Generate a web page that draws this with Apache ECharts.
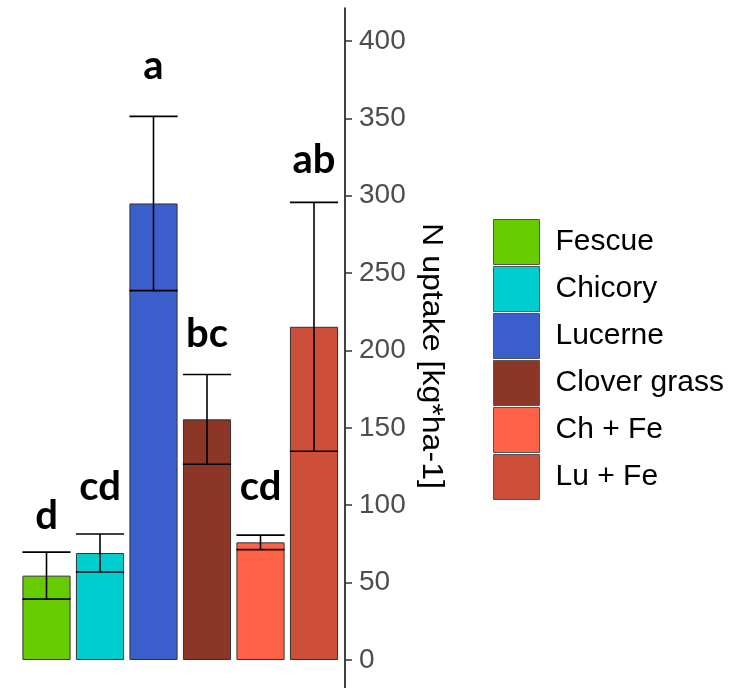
<!DOCTYPE html>
<html>
<head>
<meta charset="utf-8">
<script src="https://cdn.jsdelivr.net/npm/echarts@6/dist/echarts.min.js"></script>
<style>
html,body{margin:0;padding:0;background:#fff;}
#chart{width:730px;height:688px;}
</style>
</head>
<body>
<div id="chart"></div>
<script>
// ---- data ----
var categories = ['Fescue', 'Chicory', 'Lucerne', 'Clover grass', 'Ch + Fe', 'Lu + Fe'];
var means = [54.5, 69.1, 295, 155.5, 76, 215.3];
var se = [15.2, 12.3, 56.3, 29, 4.7, 80.4];
var letters = ['d', 'cd', 'a', 'bc', 'cd', 'ab'];
var letterY = [82.9, 101.3, 373.5, 200.2, 101.3, 312.5];
var yTicks = [0, 50, 100, 150, 200, 250, 300, 350, 400];
var colors = ['#66CC00', '#00CDCD', '#3A5FCD', '#8B3626', '#FF6347', '#CD4F39'];
var yTitle = 'N uptake [kg*ha-1]';

var chart = echarts.init(document.getElementById('chart'), null, {renderer: 'canvas'});

var barSeries = categories.map(function (name, i) {
  return {
    name: name,
    type: 'bar',
    stack: 'all',
    barWidth: '90%',
    itemStyle: {color: colors[i], borderColor: '#333', borderWidth: 1},
    data: categories.map(function (c, j) { return j === i ? means[i] : '-'; }),
    z: 2
  };
});

var errData = categories.map(function (c, i) { return [i, means[i] - se[i], means[i] + se[i]]; });
var letterData = categories.map(function (c, i) { return [i, letterY[i]]; });

var option = {
  backgroundColor: '#fff',
  animation: false,
  grid: {left: 19.75, width: 321, top: 8, height: 695.3, containLabel: false, outerBoundsMode: 'none'},
  xAxis: {type: 'category', data: categories, show: false, boundaryGap: true},
  yAxis: {
    type: 'value', position: 'right', offset: 4.25,
    min: -28, max: 421.3,
    splitLine: {show: false},
    axisLine: {show: true, lineStyle: {color: '#000', width: 1.5}},
    axisTick: {show: true, length: 7, lineStyle: {color: '#333', width: 1.5}, customValues: yTicks},
    axisLabel: {show: true, margin: 14, color: '#4D4D4D', fontSize: 28, fontFamily: 'Liberation Sans', customValues: yTicks}
  },
  graphic: [{
    type: 'text', x: 431, y: 356, rotation: -Math.PI / 2, scaleX: 1.07,
    style: {text: yTitle, fill: '#000', font: '30px "Liberation Sans"', align: 'center', verticalAlign: 'middle'}
  }],
  legend: {
    orient: 'vertical', left: 493, top: 219, padding: 0,
    itemWidth: 46, itemHeight: 45, itemGap: 1, icon: 'rect',
    data: categories,
    itemStyle: {borderColor: '#555', borderWidth: 1},
    textStyle: {color: '#000', fontSize: 30, fontFamily: 'Liberation Sans', padding: [0, 0, 0, 11]}
  },
  series: barSeries.concat([
    {
      type: 'custom', name: 'err', z: 5,
      data: errData,
      encode: {x: 0, y: [1, 2]},
      renderItem: function (params, api) {
        var x = api.value(0);
        var lo = api.coord([x, api.value(1)]);
        var hi = api.coord([x, api.value(2)]);
        var w = api.size([1, 0])[0] * 0.9 / 2;
        var st = {stroke: '#000', lineWidth: 1.6};
        return {type: 'group', children: [
          {type: 'line', shape: {x1: hi[0], y1: hi[1], x2: lo[0], y2: lo[1]}, style: st},
          {type: 'line', shape: {x1: hi[0] - w, y1: hi[1], x2: hi[0] + w, y2: hi[1]}, style: st},
          {type: 'line', shape: {x1: lo[0] - w, y1: lo[1], x2: lo[0] + w, y2: lo[1]}, style: st}
        ]};
      }
    },
    {
      type: 'custom', name: 'letters', z: 6,
      data: letterData,
      encode: {x: 0, y: 1},
      renderItem: function (params, api) {
        var p = api.coord([api.value(0), api.value(1)]);
        return {type: 'text', x: p[0], y: p[1] - 16, style: {
          text: letters[params.dataIndex], fill: '#000',
          font: 'bold 40px Lato', align: 'center', verticalAlign: 'middle'
        }};
      }
    }
  ])
};
chart.setOption(option);
</script>
</body>
</html>
